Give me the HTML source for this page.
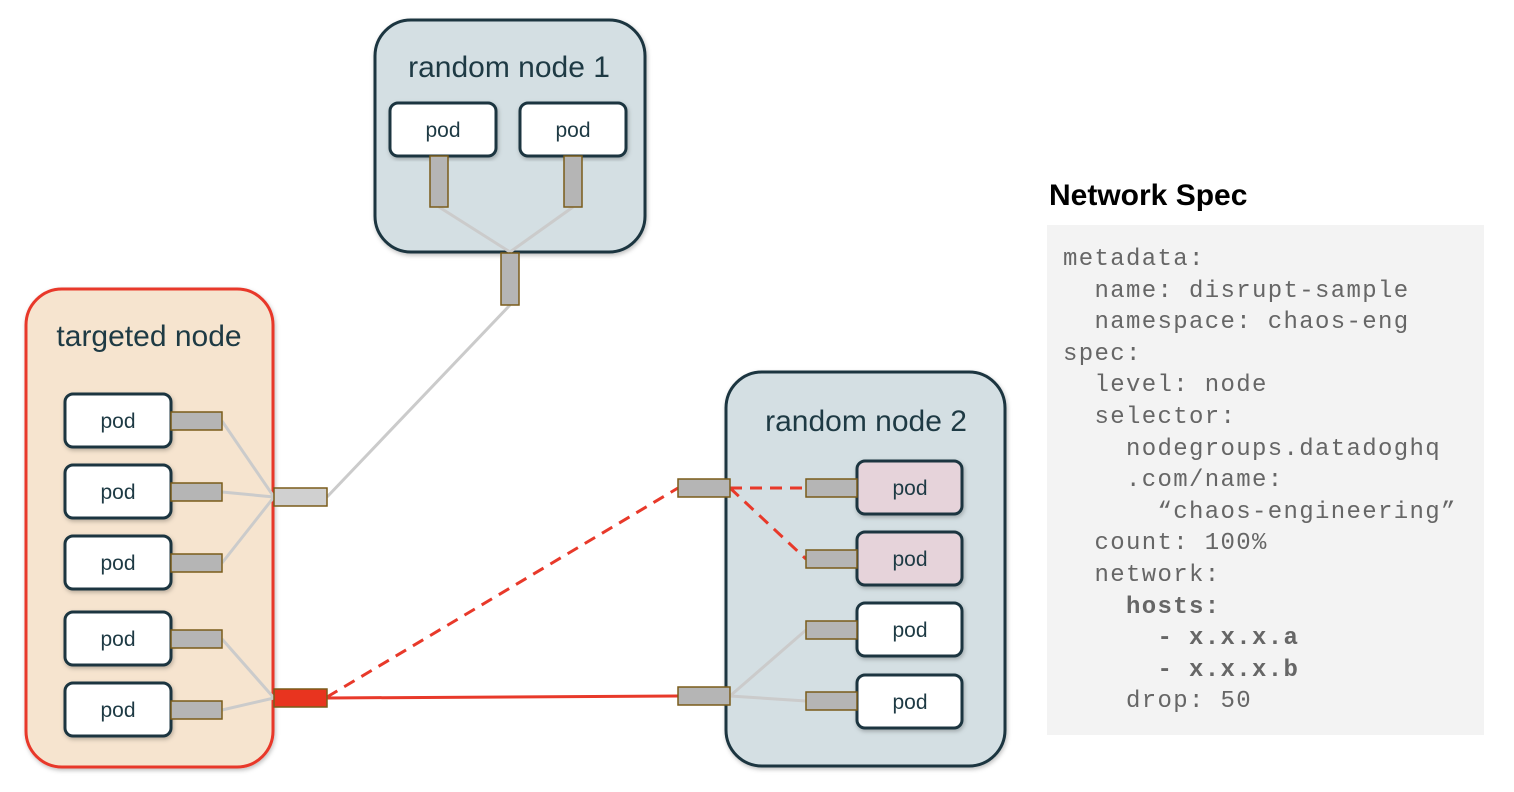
<!DOCTYPE html>
<html><head><meta charset="utf-8"><style>
body{margin:0;width:1514px;height:792px;background:#fff;overflow:hidden;position:relative;font-family:"Liberation Sans",sans-serif}
svg{position:absolute;left:0;top:0}
.title{position:absolute;left:1049px;top:179px;font-weight:bold;font-size:30px;color:#000}
.spec{position:absolute;left:1047px;top:225px;width:437px;height:510px;background:#f3f3f3}
pre{position:absolute;left:1063px;top:244px;margin:0;font-family:"Liberation Mono",monospace;font-size:24px;letter-spacing:1.35px;line-height:31.6px;color:#666}
</style></head><body>
<svg width="1514" height="792" xmlns="http://www.w3.org/2000/svg">
<defs><filter id="sh" x="-10%" y="-10%" width="120%" height="120%"><feDropShadow dx="1" dy="2" stdDeviation="2" flood-opacity="0.25"/></filter></defs>
<g font-family="Liberation Sans, sans-serif" fill="#1e3a44" text-anchor="middle">
<rect x="375" y="20" width="270" height="232" rx="36" fill="#d4dfe3" stroke="#1a3540" stroke-width="3" filter="url(#sh)"/>
<text x="509" y="77" font-size="30" fill="#1e3a44">random node 1</text>
<rect x="390" y="103" width="106" height="53" rx="8" fill="#fff" stroke="#1a3540" stroke-width="3" filter="url(#sh)"/>
<rect x="520" y="103" width="106" height="53" rx="8" fill="#fff" stroke="#1a3540" stroke-width="3" filter="url(#sh)"/>
<text x="443" y="137" font-size="21">pod</text><text x="573" y="137" font-size="21">pod</text>
<rect x="26" y="289" width="247" height="478" rx="36" fill="#f6e4cf" stroke="#e8392a" stroke-width="3" filter="url(#sh)"/>
<text x="149" y="346" font-size="30">targeted node</text>
<rect x="726" y="372" width="279" height="394" rx="36" fill="#d4dfe3" stroke="#1a3540" stroke-width="3" filter="url(#sh)"/>
<text x="866" y="431" font-size="30">random node 2</text>
<g stroke="#cbcbcb" stroke-width="3" fill="none">
<line x1="439" y1="207" x2="510" y2="252"/><line x1="573" y1="207" x2="510" y2="252"/>
<line x1="510" y1="305" x2="327" y2="497"/>
<line x1="222" y1="421" x2="274" y2="497"/><line x1="222" y1="492" x2="274" y2="497"/><line x1="222" y1="563" x2="274" y2="497"/>
<line x1="222" y1="639" x2="274" y2="698"/><line x1="222" y1="710" x2="274" y2="698"/>
<line x1="730" y1="696" x2="806" y2="630"/><line x1="730" y1="696" x2="806" y2="701"/>
</g>
<g stroke="#e8392a" stroke-width="3" fill="none">
<line x1="327" y1="698" x2="678" y2="696"/>
<g stroke-dasharray="12 8"><line x1="327" y1="697" x2="678" y2="488"/><line x1="730" y1="488" x2="806" y2="488"/><line x1="730" y1="488" x2="806" y2="559"/></g>
</g>
<g fill="#fff" stroke="#1a3540" stroke-width="3" filter="url(#sh)">
<rect x="65" y="394" width="106" height="53" rx="8"/><rect x="65" y="465" width="106" height="53" rx="8"/><rect x="65" y="536" width="106" height="53" rx="8"/><rect x="65" y="612" width="106" height="53" rx="8"/><rect x="65" y="683" width="106" height="53" rx="8"/>
<rect x="857" y="461" width="105" height="53" rx="8" fill="#e6d3da"/><rect x="857" y="532" width="105" height="53" rx="8" fill="#e6d3da"/><rect x="857" y="603" width="105" height="53" rx="8"/><rect x="857" y="675" width="105" height="53" rx="8"/>
</g>
<g font-size="21">
<text x="118" y="428">pod</text><text x="118" y="499">pod</text><text x="118" y="570">pod</text><text x="118" y="646">pod</text><text x="118" y="717">pod</text>
<text x="910" y="495">pod</text><text x="910" y="566">pod</text><text x="910" y="637">pod</text><text x="910" y="709">pod</text>
</g>
<g fill="#b5b5b5" stroke="#7a5c1a" stroke-width="1.5">
<rect x="430" y="156" width="18" height="51"/><rect x="564" y="156" width="18" height="51"/><rect x="501" y="253" width="18" height="52"/>
<rect x="171" y="412" width="51" height="18"/><rect x="171" y="483" width="51" height="18"/><rect x="171" y="554" width="51" height="18"/><rect x="171" y="630" width="51" height="18"/><rect x="171" y="701" width="51" height="18"/>
<rect x="274" y="488" width="53" height="18" fill="#d0d0d0"/>
<rect x="274" y="689" width="53" height="18" fill="#e8341f"/>
<rect x="678" y="479" width="52" height="18"/><rect x="678" y="687" width="52" height="18"/>
<rect x="806" y="479" width="51" height="18"/><rect x="806" y="550" width="51" height="18"/><rect x="806" y="621" width="51" height="18"/><rect x="806" y="692" width="51" height="18"/>
</g>
</g>
</svg>
<div class="title">Network Spec</div>
<div class="spec"></div>
<pre>metadata:
  name: disrupt-sample
  namespace: chaos-eng
spec:
  level: node
  selector:
    nodegroups.datadoghq
    .com/name:
      “chaos-engineering”
  count: 100%
  network:
    <b>hosts:</b>
      <b>- x.x.x.a</b>
      <b>- x.x.x.b</b>
    drop: 50</pre>
</body></html>
